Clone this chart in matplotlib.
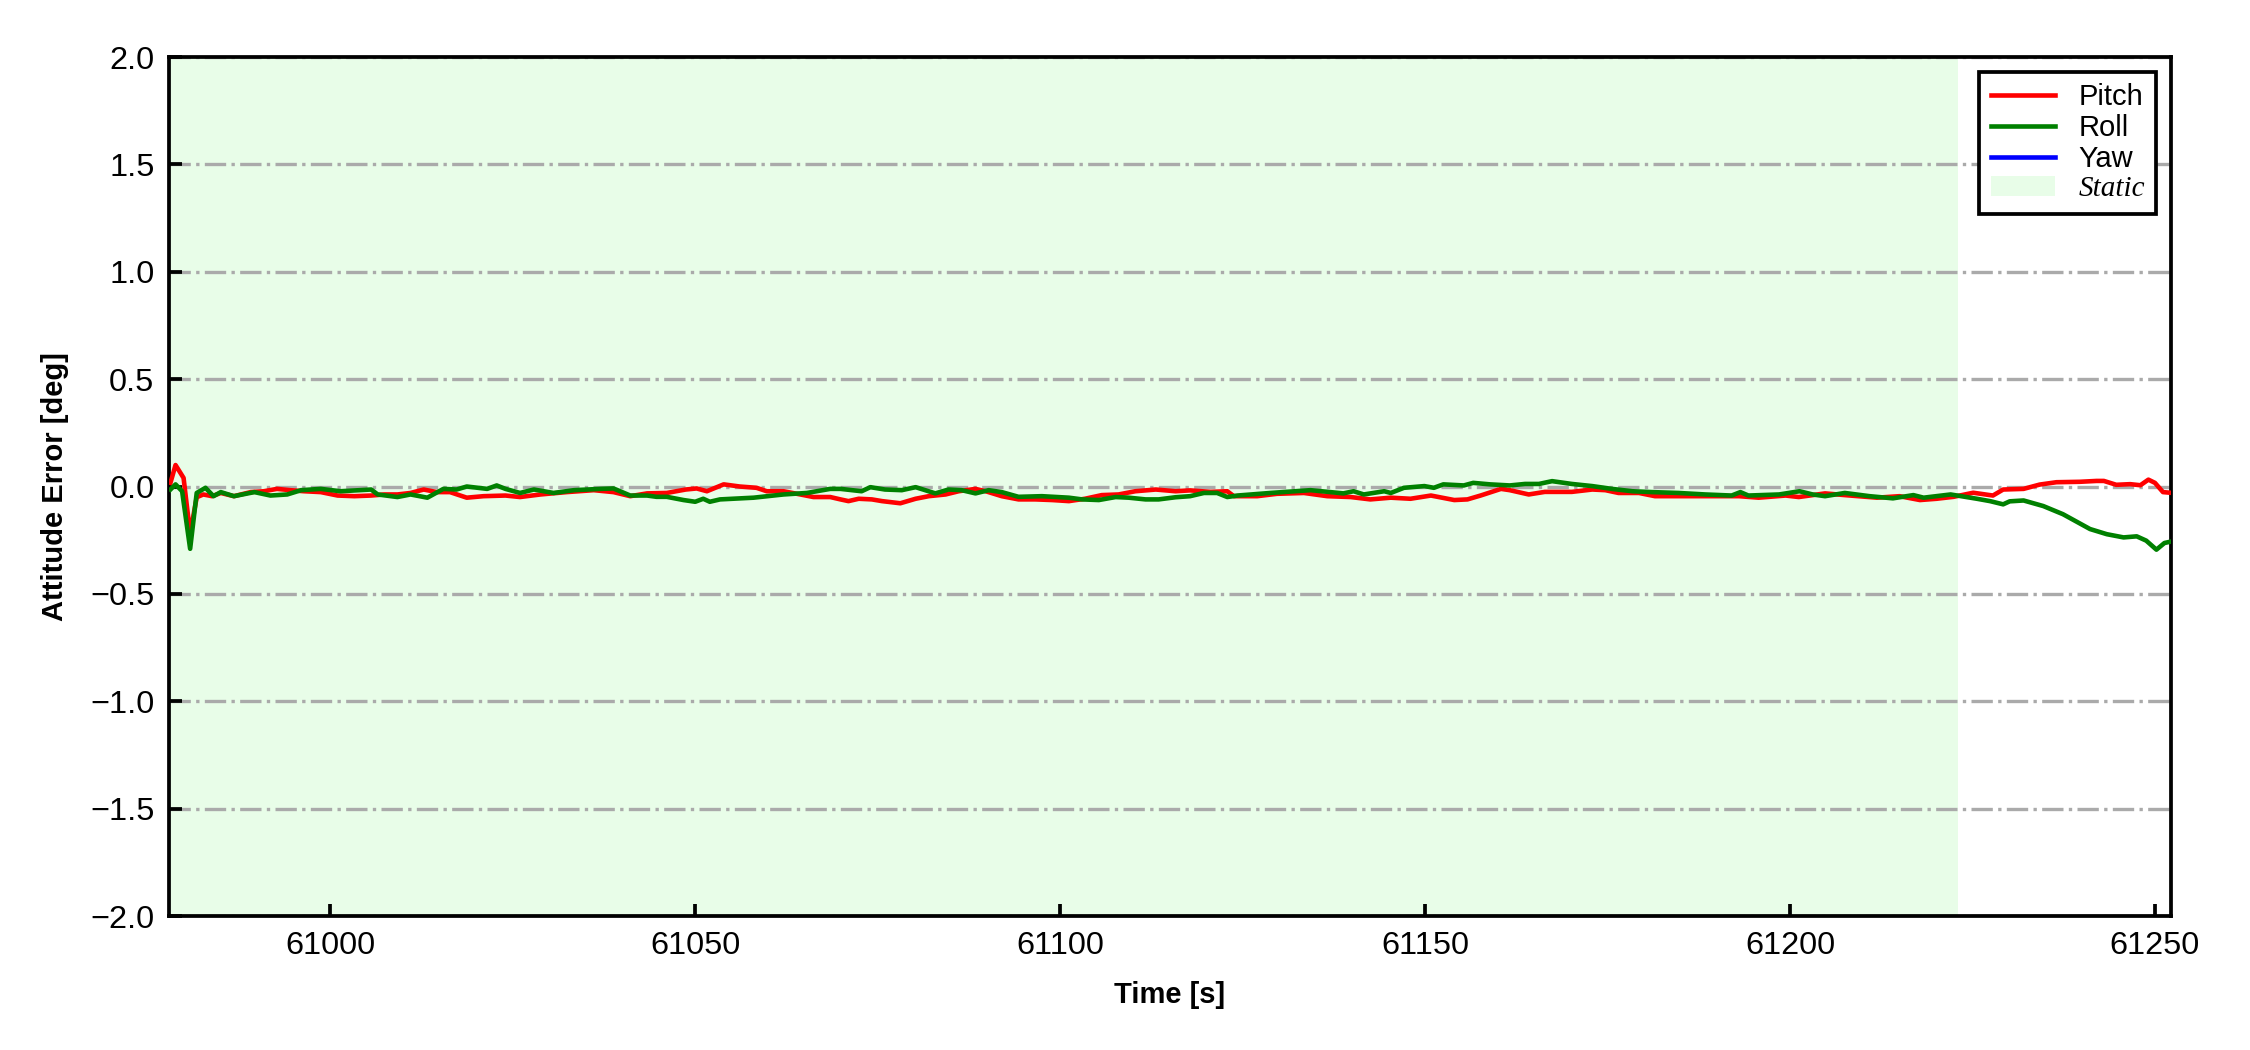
import numpy as np
import matplotlib
matplotlib.use("Agg")
import matplotlib.pyplot as plt

plt.rcParams['font.family'] = ['Liberation Sans', 'DejaVu Sans']

# Pitch error (time [s], error [deg])
pitch_t = [60978.1, 60978.8, 60979.9, 60980.8, 60981.7, 60982.6, 60983.8, 60985.0, 60986.8,
           60989.1, 60990.9, 60992.7, 60994.5, 60996.4, 60998.7, 61001.0, 61003.3, 61005.6,
           61007.4, 61009.2, 61011.0, 61012.8, 61014.6, 61016.4, 61018.7, 61021.0, 61024.0,
           61026.0, 61028.8, 61032.4, 61036.1, 61038.8, 61041.1, 61043.4, 61046.1, 61048.7,
           61050.2, 61051.6, 61053.9, 61056.1, 61058.4, 61059.8, 61062.1, 61064.4, 61066.2,
           61068.5, 61069.9, 61071.0, 61072.4, 61074.2, 61075.6, 61078.1, 61080.2, 61082.0,
           61084.3, 61086.1, 61088.4, 61089.8, 61092.0, 61094.3, 61096.6, 61098.9, 61101.2,
           61103.4, 61105.7, 61108.0, 61110.3, 61113.1, 61115.8, 61117.8, 61120.6, 61122.9,
           61123.8, 61127.0, 61129.7, 61133.4, 61136.6, 61139.8, 61142.5, 61145.3, 61148.0,
           61150.8, 61154.0, 61155.8, 61157.6, 61160.4, 61161.6, 61164.2, 61166.4, 61170.1,
           61172.9, 61174.7, 61176.5, 61179.3, 61181.5, 61184.7, 61188.4, 61193.0, 61195.7,
           61199.4, 61201.2, 61204.8, 61207.5, 61211.9, 61215.0, 61217.8, 61220.1, 61222.4,
           61225.1, 61227.8, 61229.2, 61232.0, 61234.2, 61236.5, 61239.7, 61242.0, 61243.0,
           61244.7, 61246.6, 61248.0, 61249.1, 61250.0, 61251.1, 61252.1]
pitch_err = [0.017, 0.100, 0.040, -0.220, -0.050, -0.037, -0.045, -0.030, -0.045,
             -0.026, -0.022, -0.011, -0.017, -0.022, -0.026, -0.042, -0.045, -0.042,
             -0.037, -0.037, -0.030, -0.014, -0.026, -0.026, -0.052, -0.045, -0.042,
             -0.049, -0.037, -0.026, -0.017, -0.026, -0.045, -0.032, -0.030, -0.014,
             -0.009, -0.022, 0.010, 0.000, -0.006, -0.022, -0.022, -0.037, -0.049,
             -0.049, -0.060, -0.068, -0.057, -0.060, -0.068, -0.078, -0.057, -0.045,
             -0.037, -0.022, -0.011, -0.022, -0.045, -0.060, -0.060, -0.063, -0.068,
             -0.057, -0.040, -0.037, -0.022, -0.014, -0.022, -0.018, -0.025, -0.022,
             -0.045, -0.045, -0.034, -0.030, -0.045, -0.049, -0.060, -0.052, -0.057,
             -0.042, -0.063, -0.060, -0.042, -0.011, -0.017, -0.037, -0.025, -0.025,
             -0.014, -0.017, -0.030, -0.030, -0.045, -0.045, -0.045, -0.045, -0.052,
             -0.042, -0.049, -0.032, -0.040, -0.052, -0.045, -0.063, -0.057, -0.048,
             -0.029, -0.042, -0.014, -0.011, 0.009, 0.020, 0.022, 0.026, 0.026,
             0.008, 0.011, 0.006, 0.032, 0.017, -0.026, -0.029]

# Roll error
roll_t = [60978.1, 60978.8, 60979.7, 60980.8, 60981.7, 60982.9, 60984.0, 60985.0, 60986.8,
          60989.6, 60991.8, 60994.1, 60996.0, 60998.7, 61001.4, 61005.6, 61006.5, 61009.2,
          61011.0, 61013.3, 61015.5, 61017.3, 61018.7, 61021.5, 61022.8, 61024.0, 61026.0,
          61027.9, 61030.6, 61033.4, 61037.0, 61038.8, 61041.1, 61043.4, 61044.7, 61046.1,
          61048.4, 61050.0, 61051.1, 61052.0, 61053.4, 61058.0, 61062.1, 61065.3, 61068.5,
          61069.9, 61072.8, 61074.0, 61076.0, 61078.3, 61080.2, 61082.9, 61084.7, 61086.5,
          61088.4, 61090.2, 61092.0, 61094.3, 61097.5, 61101.2, 61103.0, 61105.3, 61107.6,
          61109.4, 61111.7, 61113.5, 61115.8, 61117.8, 61119.7, 61121.5, 61122.9, 61124.3,
          61128.8, 61134.3, 61138.8, 61140.2, 61141.6, 61144.4, 61145.3, 61147.1, 61149.9,
          61151.2, 61152.5, 61155.3, 61156.6, 61158.9, 61161.6, 61163.7, 61165.6, 61167.4,
          61170.1, 61172.9, 61175.6, 61178.4, 61181.1, 61184.7, 61188.4, 61192.0, 61193.2,
          61194.3, 61198.5, 61201.3, 61203.1, 61204.8, 61207.5, 61210.9, 61214.1, 61216.9,
          61218.3, 61222.0, 61225.6, 61227.4, 61229.2, 61230.1, 61232.0, 61234.7, 61237.4,
          61241.1, 61243.4, 61245.7, 61247.5, 61248.8, 61250.2, 61251.3, 61252.1]
roll_err = [-0.014, 0.010, -0.022, -0.290, -0.030, -0.006, -0.045, -0.026, -0.045,
            -0.026, -0.042, -0.037, -0.017, -0.011, -0.022, -0.014, -0.037, -0.049,
            -0.037, -0.052, -0.011, -0.014, 0.000, -0.011, 0.005, -0.011, -0.030,
            -0.014, -0.030, -0.017, -0.011, -0.009, -0.042, -0.042, -0.048, -0.048,
            -0.063, -0.071, -0.057, -0.071, -0.060, -0.052, -0.037, -0.030, -0.011,
            -0.011, -0.022, -0.003, -0.014, -0.017, -0.003, -0.032, -0.014, -0.017,
            -0.032, -0.017, -0.026, -0.048, -0.045, -0.052, -0.060, -0.063, -0.049,
            -0.052, -0.060, -0.060, -0.050, -0.045, -0.030, -0.030, -0.049, -0.042,
            -0.030, -0.017, -0.032, -0.022, -0.037, -0.022, -0.030, -0.006, 0.002,
            -0.006, 0.010, 0.005, 0.017, 0.010, 0.005, 0.012, 0.012, 0.025,
            0.012, 0.002, -0.011, -0.022, -0.026, -0.030, -0.037, -0.042, -0.026,
            -0.042, -0.037, -0.022, -0.037, -0.045, -0.030, -0.045, -0.055, -0.040,
            -0.052, -0.037, -0.057, -0.068, -0.083, -0.069, -0.065, -0.091, -0.129,
            -0.198, -0.222, -0.237, -0.232, -0.252, -0.294, -0.263, -0.257]

# Yaw error: no samples inside the plotted range
yaw_t = []
yaw_err = []

static_start = 60977.9
static_end = 61223.0

fig = plt.figure(figsize=(7.5, 3.5), dpi=300)
ax = fig.add_axes([0.0751, 0.1276, 0.8898, 0.8181])

ax.axvspan(static_start, static_end, color='#e8fde8', lw=0, label='Static', zorder=0)
ax.plot(pitch_t, pitch_err, color='red', lw=1.1, label='Pitch', zorder=3)
ax.plot(roll_t, roll_err, color='green', lw=1.1, label='Roll', zorder=3)
ax.plot(yaw_t, yaw_err, color='blue', lw=1.1, label='Yaw', zorder=3)

ax.set_xlim(60977.9, 61252.2)
ax.set_ylim(-2.0, 2.0)
ax.set_xticks(np.arange(61000, 61251, 50))
ax.set_yticks(np.arange(-2.0, 2.01, 0.5))
ax.yaxis.grid(True, linestyle='-.', color='#aaaaaa', lw=0.8)
ax.set_axisbelow(True)

ax.tick_params(direction='in', length=3, width=0.9, labelsize=7.8, top=False, right=False)
for s in ax.spines.values():
    s.set_linewidth(0.9)

ax.set_xlabel('Time [s]', fontsize=7, fontweight='bold', labelpad=5)
ax.set_ylabel('Attitude Error [deg]', fontsize=7, fontweight='bold', labelpad=5)

h, l = ax.get_legend_handles_labels()
order = [1, 2, 3, 0]
leg = ax.legend([h[i] for i in order], [l[i] for i in order], loc='upper right',
                fontsize=7, fancybox=False, edgecolor='black', framealpha=1,
                borderaxespad=0.5, handlelength=2.2, labelspacing=0.1)
leg.get_frame().set_linewidth(0.9)
for t in leg.get_texts():
    if t.get_text() == 'Static':
        t.set_fontfamily(['Liberation Serif'])
        t.set_fontstyle('italic')

fig.savefig('out.png', dpi=300)
